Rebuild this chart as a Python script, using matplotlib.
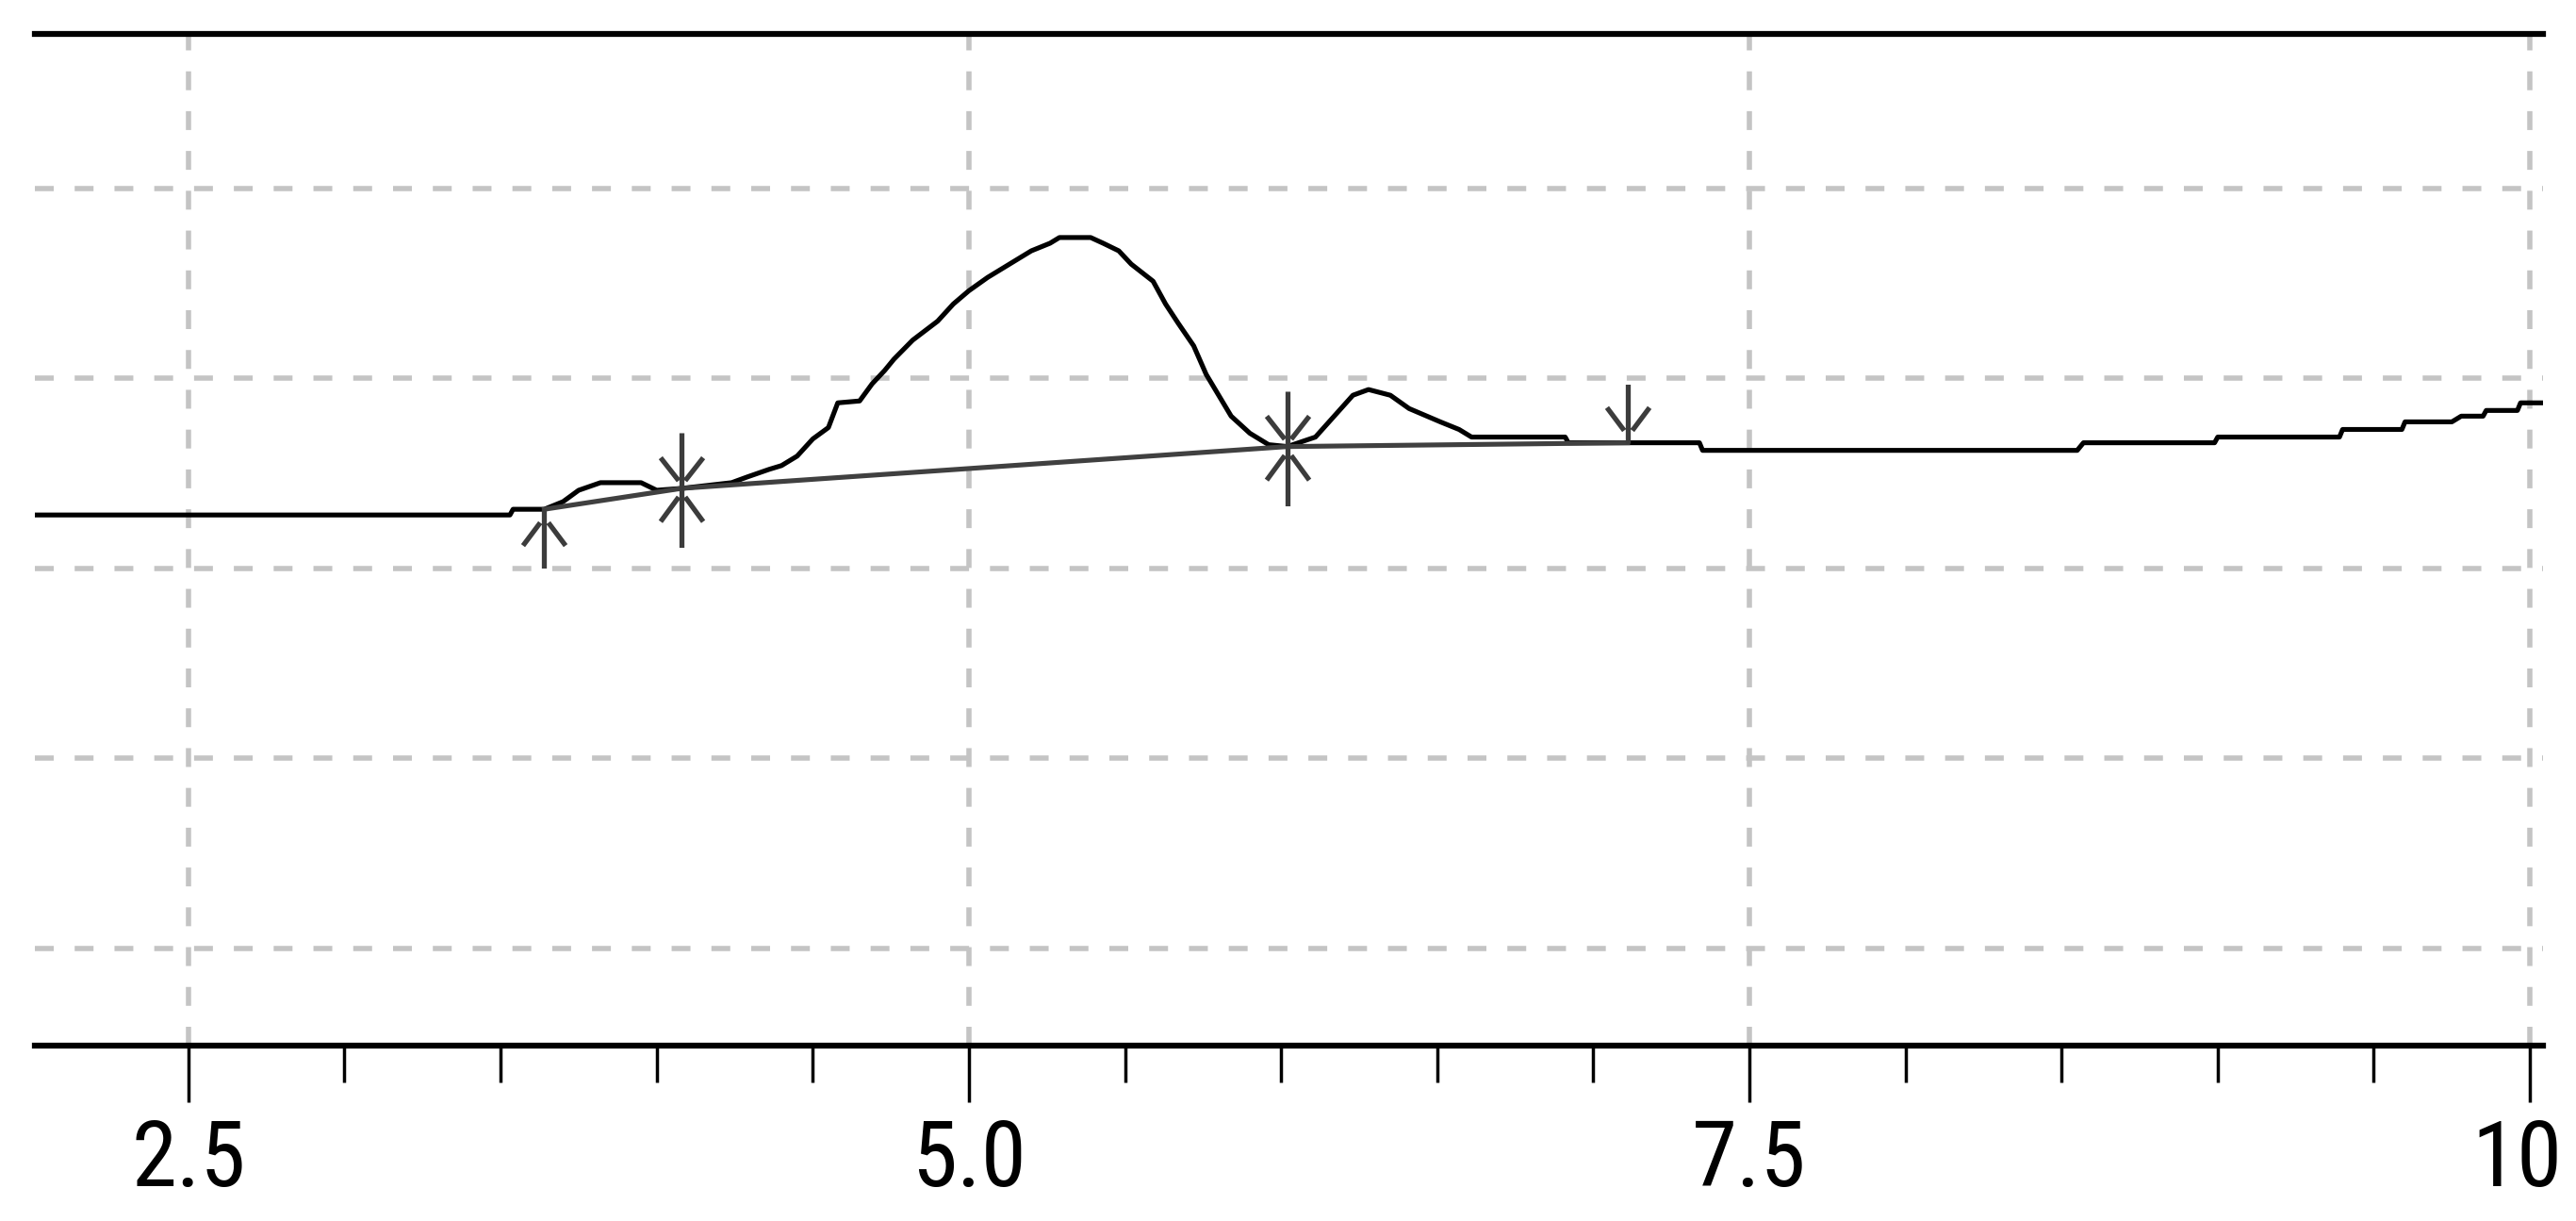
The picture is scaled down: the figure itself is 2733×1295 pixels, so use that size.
import os
import numpy as np
import matplotlib.pyplot as plt
from matplotlib.path import Path
from matplotlib.ticker import MultipleLocator
from matplotlib import font_manager
import matplotlib.transforms as mtransforms

# signal trace (black)
sig_x = [2.01, 3.53, 3.54, 3.64, 3.70, 3.75, 3.82, 3.95, 4.00, 4.08,
         4.24, 4.29, 4.36, 4.40, 4.45, 4.50, 4.55, 4.58, 4.65, 4.69,
         4.73, 4.76, 4.82, 4.90, 4.95, 5.00, 5.06, 5.12, 5.20, 5.26,
         5.29, 5.34, 5.39, 5.43, 5.48, 5.52, 5.59, 5.63, 5.67, 5.72,
         5.76, 5.80, 5.84, 5.90, 5.96, 6.02, 6.11, 6.23, 6.28, 6.35,
         6.41, 6.51, 6.57, 6.61, 6.91, 6.92, 7.11, 7.34, 7.35, 8.55,
         8.57, 8.99, 9.00, 9.39, 9.40, 9.59, 9.60, 9.75, 9.78, 9.85,
         9.86, 9.96, 9.97, 10.04]
sig_y = [3.28, 3.28, 3.31, 3.31, 3.35, 3.41, 3.45, 3.45, 3.41, 3.42,
         3.45, 3.48, 3.52, 3.54, 3.59, 3.68, 3.74, 3.87, 3.88, 3.97,
         4.04, 4.10, 4.20, 4.30, 4.39, 4.46, 4.53, 4.59, 4.67, 4.71,
         4.74, 4.74, 4.74, 4.71, 4.67, 4.60, 4.51, 4.39, 4.29, 4.17,
         4.02, 3.91, 3.80, 3.71, 3.65, 3.64, 3.69, 3.91, 3.94, 3.91,
         3.84, 3.77, 3.73, 3.69, 3.69, 3.66, 3.66, 3.66, 3.62, 3.62,
         3.66, 3.66, 3.69, 3.69, 3.73, 3.73, 3.77, 3.77, 3.80, 3.80,
         3.83, 3.83, 3.87, 3.87]

# integration baseline (grey)
base_x = [3.64, 4.08, 6.02, 7.11]
base_y = [3.31, 3.42, 3.64, 3.66]

# peak markers
up_x, up_y = [3.64], [3.31]
star_x, star_y = [4.08, 6.02], [3.42, 3.64]
down_x, down_y = [7.11], [3.66]

x_major = [2.5, 5.0, 7.5, 10.0]
x_labels = ['2.5', '5.0', '7.5', '10']
y_grid = [1, 2, 3, 4, 5]

# narrow sans font for tick labels if one is installed
label_font = font_manager.FontProperties(family='Liberation Sans', size=66)
skip = ('bold', 'italic', 'oblique', 'mono', 'serif', 'light', 'thin', 'black',
        'medium', 'semi', 'extra', 'ultra', 'heavy')
prefs = ['liberationsansnarrow', 'arimo', 'roboto', 'notosans', 'dejavusans', 'opensans', '']
found = []
for f in font_manager.fontManager.ttflist:
    base = os.path.basename(f.fname).lower().replace('-', '').replace('_', '')
    if ('narrow' in base or 'condensed' in base) and not any(k in base.replace('condensed', '').replace('narrow', '') for k in skip):
        rank = next(i for i, p in enumerate(prefs) if base.startswith(p))
        found.append((rank, f.fname))
if found:
    found.sort()
    label_font = font_manager.FontProperties(fname=found[0][1], size=70)

M, L = Path.MOVETO, Path.LINETO
up_marker = Path([(0, 0), (0, -36), (-2.5, -8), (-13, -22), (2.5, -8), (13, -22)],
                 [M, L, M, L, M, L])
down_marker = Path([(0, 0), (0, 36), (-2.5, 8), (-13, 22), (2.5, 8), (13, 22)],
                   [M, L, M, L, M, L])
star_marker = Path([(0, 34), (0, -36),
                    (-2, -5), (-13, -20), (2, -5), (13, -20),
                    (-2, 5), (-13, 19), (2, 5), (13, 19)],
                   [M, L, M, L, M, L, M, L, M, L])

fig = plt.figure(figsize=(27.33, 12.95), dpi=100)
ax = fig.add_axes([0.0135, 0.144, 0.9737, 0.828])

ax.plot(sig_x, sig_y, color='black', lw=3.7, zorder=3)
ax.plot(base_x, base_y, color='#404040', lw=3.7, zorder=4)
mk = dict(linestyle='none', markersize=90, markeredgewidth=3.8,
          markeredgecolor='#3c3c3c', markerfacecolor='none', zorder=5)
ax.plot(up_x, up_y, marker=up_marker, **mk)
ax.plot(star_x, star_y, marker=star_marker, **mk)
ax.plot(down_x, down_y, marker=down_marker, **mk)

ax.set_xlim(2.008, 10.042)
ax.set_ylim(0.49, 5.81)

ax.set_xticks(x_major)
ax.set_xticklabels(x_labels, fontproperties=label_font)
ax.xaxis.set_minor_locator(MultipleLocator(0.5))
ax.set_yticks(y_grid)
ax.tick_params(axis='y', left=False, labelleft=False)
ax.tick_params(axis='x', which='major', direction='out', length=43, width=2.5,
               pad=13, color='black')
ax.tick_params(axis='x', which='minor', direction='out', length=28, width=2.5, color='black')

# last label sits a little left of its tick, as at the right edge of the original
last = ax.get_xticklabels()[-1]
last.set_transform(last.get_transform() + mtransforms.ScaledTranslation(-0.14, 0, fig.dpi_scale_trans))

ax.grid(True, which='major', color='#c4c4c4', lw=4, linestyle=(0, (3.6, 4.0)))
ax.set_axisbelow(True)

for s in ['left', 'right']:
    ax.spines[s].set_visible(False)
for s in ['top', 'bottom']:
    ax.spines[s].set_linewidth(4.5)
    ax.spines[s].set_color('black')

fig.savefig('out.png', dpi=100)
